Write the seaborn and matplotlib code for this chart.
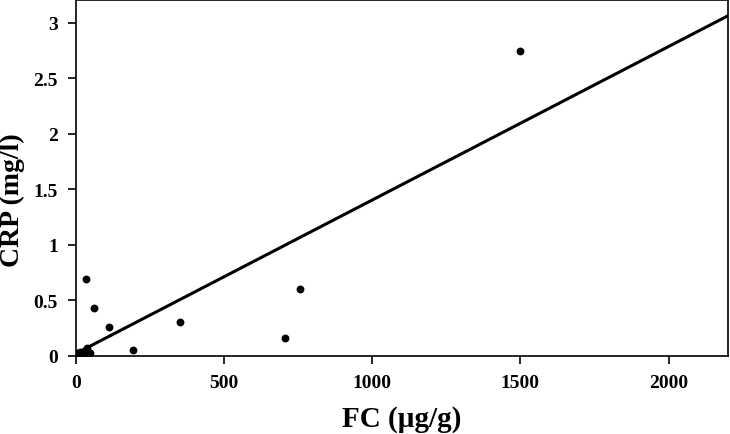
import matplotlib
matplotlib.use("Agg")
import matplotlib.pyplot as plt
import seaborn as sns
import numpy as np
import pandas as pd

fc = [5, 10, 14, 18, 22, 26, 30, 34, 38, 42, 48, 33, 60, 110, 192, 351, 705, 755, 1499]
crp = [0.02, 0.01, 0.03, 0.0, 0.02, 0.01, 0.03, 0.04, 0.07, 0.03, 0.02, 0.69, 0.425, 0.26, 0.05, 0.30, 0.155, 0.60, 2.74]
fit_x = [0, 2200]
fit_y = [0.02, 3.06]
x_ticks = [0, 500, 1000, 1500, 2000]
y_ticks = [0, 0.5, 1, 1.5, 2, 2.5, 3]
y_tick_labels = ["0", "0.5", "1", "1.5", "2", "2.5", "3"]

sns.set_theme(style="ticks")
plt.rcParams['font.family'] = ['Liberation Serif', 'DejaVu Serif']
plt.rcParams['text.color'] = 'black'
plt.rcParams['axes.labelcolor'] = 'black'
plt.rcParams['xtick.color'] = 'black'
plt.rcParams['ytick.color'] = 'black'

df = pd.DataFrame({"FC": fc, "CRP": crp})
fit = pd.DataFrame({"x": fit_x, "y": fit_y})

fig = plt.figure(figsize=(7.3, 4.35), dpi=100)
ax = fig.add_axes([0.104, 0.18, 0.893, 0.817])

sns.lineplot(data=fit, x="x", y="y", ax=ax, color="black", linewidth=2.2)
sns.scatterplot(data=df, x="FC", y="CRP", ax=ax, color="black", s=32, edgecolor="black", linewidth=0, zorder=3)

ax.set_xlim(0, 2200)
ax.set_ylim(0, 3.2)
ax.set_xticks(x_ticks)
ax.set_xticklabels([str(t) for t in x_ticks], fontweight="bold", fontsize=14, color="black")
ax.set_yticks(y_ticks)
ax.set_yticklabels(y_tick_labels, fontweight="bold", fontsize=14, color="black")
ax.set_xlabel("FC (µg/g)", fontsize=21, fontweight="bold", labelpad=10, color="black")
ax.set_ylabel("CRP (mg/l)", fontsize=20, fontweight="bold", color="black")
ax.yaxis.set_label_coords(-0.078, 0.44)
for sp in ax.spines.values():
    sp.set_visible(True)
    sp.set_color("black")
    sp.set_linewidth(1.2)
ax.tick_params(axis="both", direction="out", length=6, width=1.2, colors="black", pad=7)

fig.savefig("out.png", dpi=100)
